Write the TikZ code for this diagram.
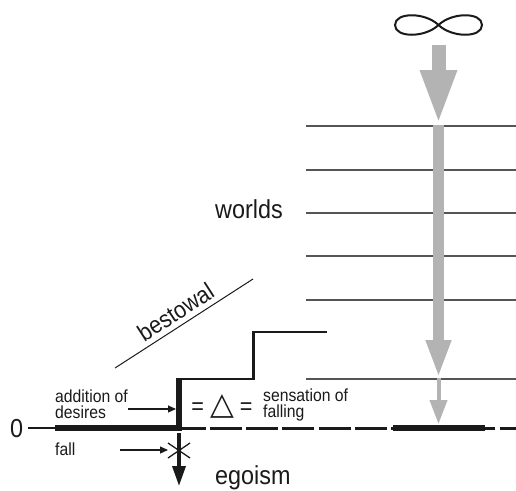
\documentclass[tikz,border=0pt]{standalone}
\usepackage{fontspec}
\setmainfont{Liberation Sans}[FakeStretch=0.9]
\newfontfamily\shapefont{DejaVu Sans}
\definecolor{ink}{HTML}{1A1A1A}
\definecolor{rule}{HTML}{555555}
\definecolor{flow}{HTML}{B3B3B3}
\usetikzlibrary{arrows.meta,positioning}

\begin{document}
\begin{tikzpicture}[x=1pt,y=-1pt,every node/.style={inner sep=0pt,text=ink}]
\tikzstyle{big}=[font=\fontsize{26}{28}\selectfont]
\tikzstyle{small}=[font=\fontsize{17.5}{16}\selectfont,align=left]
\tikzstyle{level}=[draw=rule,line width=1.2pt]
\tikzstyle{ray}=[draw=flow]
\tikzstyle{pointer}=[draw=ink,line width=1.1pt,-{Triangle[length=8pt,width=7pt]}]
\useasboundingbox (0,0) rectangle (516,490);
% infinity on top
\draw[ink,line width=2pt] (438.5,25) .. controls (452,12) and (482,12) .. (482,25)
  .. controls (482,38) and (452,38) .. (438.5,25)
  .. controls (425,12) and (395,12) .. (395,25)
  .. controls (395,38) and (425,38) .. (438.5,25);
% worlds
\foreach \y/\n in {126/1,170/2,213/3,256/4,300/5,379/6}
  \draw[level] (306,\y) coordinate (l\n) -- (516,\y);
\node[big,anchor=base east] (worlds) at (283,218) {worlds};
% grey descent
\coordinate (ray0) at (438.5,45);
\coordinate (ray1) at (438.5,125);
\coordinate (ray2) at (438.5,378);
\coordinate (ray3) at (438.5,424);
\draw[ray,line width=14pt,-{Triangle[length=55pt,width=33pt]}] (ray0)--(ray1);
\draw[ray,line width=11pt,-{Triangle[length=38pt,width=23pt]}] (ray1)--(ray2);
\draw[ray,line width=4pt,-{Triangle[length=24pt,width=17pt]}] (ray2)--(ray3);
% zero line
\node[big,anchor=base west] (zero) at (10,437) {0};
\draw[ink,line width=3pt,dash pattern=on 32pt off 4.2pt] (173.8,428) -- (516,428);
\draw[ink,line width=2.5pt] (28,428) -- (55,428);
\draw[ink,line width=6pt] (55,428) -- (181,428);
\draw[ink,line width=6pt] (393,428) -- (485,428);
% step of desires
\draw[ink,line width=5.5pt] (179,378) -- (179,431);
\draw[ink,line width=2.6pt] (181,379) -- (253.5,379) -- (253.5,332) -- (327,332);
\draw[ink,line width=1pt] (115,368) -- (253,279);
\node[font=\fontsize{24}{26}\selectfont,rotate=32.8] (bestowal) at (175.5,312) {bestowal};
% labels
\node[small,anchor=north west] (addition) at (55,389.3) {addition of\\desires};
\node[small,anchor=north west] (sensation) at (263,388.3) {sensation of\\falling};
\node[font=\fontsize{24}{26}\selectfont] (equal) at (222,406) {= {\shapefont\fontsize{31}{32}\selectfont △} =};
\node[small,anchor=base west] (fall) at (55,455) {fall};
\node[big,anchor=base west] (egoism) at (215,484) {egoism};
\coordinate (rise) at (176,409);
\draw[pointer] (addition.east |- rise) -- (rise);
\coordinate (cross) at (168,450);
\draw[pointer] ([xshift=-48pt]cross) -- (cross);
% fall below zero
\draw[ink,line width=1.3pt] (168,443) -- (190,458) (168,458) -- (190,443);
\draw[ink,line width=3.5pt,-{Triangle[length=20pt,width=13pt]}] (179,433) -- (179,486);
\end{tikzpicture}
\end{document}
